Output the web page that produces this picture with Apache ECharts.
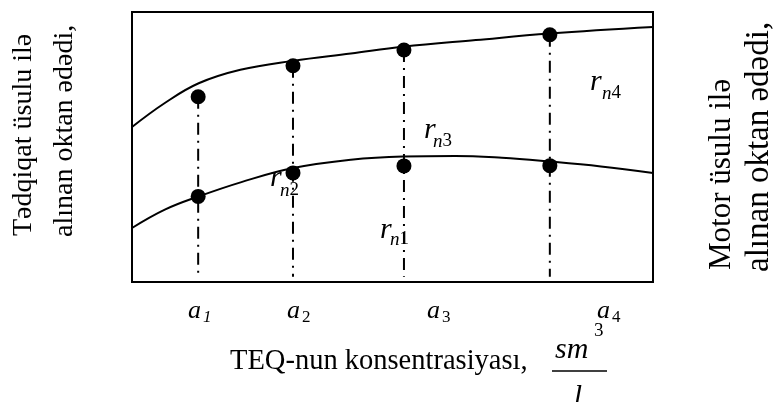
<!DOCTYPE html>
<html>
<head>
<meta charset="utf-8">
<script src="https://cdn.jsdelivr.net/npm/echarts@6/dist/echarts.min.js"></script>
<style>html,body{margin:0;padding:0;background:#fff;}#c{width:773px;height:402px;}</style>
</head>
<body>
<div id="c"></div>
<script>
// ---- data (abstract units) ----
const aPos = [1.27, 3.09, 5.22, 8.02];
const aLabels = ['1', '2', '3', '4'];
const upperDots = [68.6, 80.1, 85.9, 91.6];
const lowerDots = [31.7, 40.4, 43.0, 43.1];
const upperCurveX = [0, 0.63, 1.28, 2.08, 3.09, 4.2, 5.2, 6.6, 8.02, 10];
const upperCurveY = [57.4, 66.3, 73.6, 78.6, 81.9, 84.6, 87.1, 89.6, 92.0, 94.4];
const lowerCurveX = [0, 0.63, 1.28, 2.1, 3.09, 4.2, 5.2, 6.2, 7.1, 8.02, 9, 10];
const lowerCurveY = [20.0, 26.8, 31.7, 37.0, 42.2, 45.3, 46.5, 46.7, 46.0, 44.6, 42.8, 40.4];
const dropBottom = 1.9;
const rSubs = ['n4', 'n3', 'n2', 'n1'];
const yTitleLeft = ['Tədqiqat üsulu ilə', 'alınan oktan ədədi,'];
const yTitleRight = ['Motor üsulu ilə', 'alınan oktan ədədi,'];
const xTitle = 'TEQ-nun konsentrasiyası,';
const unitNum = 'sm', unitExp = '3', unitDen = 'l';

const FAM = '"Liberation Serif", "Times New Roman", serif';
const chart = echarts.init(document.getElementById('c'), null, {renderer: 'canvas'});

const zip = (xs, ys) => xs.map((x, i) => [x, ys[i]]);
const txt = (text, size, italic, align, extra) => Object.assign({
  text: text, fontFamily: FAM, fontSize: size, fontStyle: italic ? 'italic' : 'normal',
  fill: '#000', textAlign: align || 'left', textVerticalAlign: 'middle'}, extra || {});

const series = [
  {type: 'line', data: zip(upperCurveX, upperCurveY), smooth: 0.4, showSymbol: false,
   lineStyle: {color: '#000', width: 2}, silent: true, z: 3},
  {type: 'line', data: zip(lowerCurveX, lowerCurveY), smooth: 0.4, showSymbol: false,
   lineStyle: {color: '#000', width: 2}, silent: true, z: 3},
];
aPos.forEach((x, i) => {
  series.push({type: 'line', data: [[x, upperDots[i]], [x, dropBottom]], showSymbol: false,
    lineStyle: {color: '#000', width: 2, type: [12, 6, 2, 6]}, silent: true, z: 2});
});
series.push({type: 'scatter', data: zip(aPos, upperDots), symbolSize: 15,
  itemStyle: {color: '#000', opacity: 1}, z: 5, silent: true});
series.push({type: 'scatter', data: zip(aPos, lowerDots), symbolSize: 15,
  itemStyle: {color: '#000', opacity: 1}, z: 5, silent: true});

// annotation positions (pixels)
const rPos = [[590, 82, 602, 93.5], [424, 130, 433, 141.5], [270, 178, 280, 190.5], [380, 230, 390, 239.5]];
const aTextX = [188, 287, 427, 597];

const graphic = [];
rSubs.forEach((s, i) => {
  const p = rPos[i];
  graphic.push({type: 'text', x: p[0], y: p[1], z: 10, style: txt('r', 30, true)});
  graphic.push({type: 'text', x: p[2], y: p[3], z: 10, style: txt('{n|' + s[0] + '}{d|' + s.slice(1) + '}', 19, false, 'left', {
    rich: {n: {fontFamily: FAM, fontSize: 19, fontStyle: 'italic', fill: '#000'},
           d: {fontFamily: FAM, fontSize: 19, fontStyle: 'normal', fill: '#000'}}})});
});
aLabels.forEach((s, i) => {
  graphic.push({type: 'text', x: aTextX[i], y: 311, style: txt('a', 26, true)});
  graphic.push({type: 'text', x: aTextX[i] + 15, y: 318, style: txt(s, 17, i === 0)});
});
graphic.push({type: 'text', x: 230, y: 362, style: txt(xTitle, 28.5, false)});
graphic.push({type: 'text', x: 555, y: 350, style: txt(unitNum, 30, true)});
graphic.push({type: 'text', x: 594, y: 331.5, style: txt(unitExp, 19, false)});
graphic.push({type: 'line', shape: {x1: 552, y1: 371, x2: 607, y2: 371}, style: {stroke: '#000', lineWidth: 1.5}});
graphic.push({type: 'text', x: 578, y: 397, style: txt(unitDen, 30, true, 'center')});
[[24, 236, 28], [65, 237, 28]].forEach((p, i) => {
  graphic.push({type: 'text', x: p[0], y: p[1], rotation: Math.PI / 2, style: txt(yTitleLeft[i], p[2], false)});
});
[[721.5, 270, 31], [759, 272, 33]].forEach((p, i) => {
  graphic.push({type: 'text', x: p[0], y: p[1], rotation: Math.PI / 2, style: txt(yTitleRight[i], p[2], false)});
});

chart.setOption({
  animation: false,
  backgroundColor: '#fff',
  grid: {left: 132, top: 12, width: 521, height: 270, show: true, borderColor: '#000', borderWidth: 2, backgroundColor: 'transparent'},
  xAxis: {type: 'value', min: 0, max: 10, show: false},
  yAxis: {type: 'value', min: 0, max: 100, show: false},
  series: series,
  graphic: graphic
});
</script>
</body>
</html>
